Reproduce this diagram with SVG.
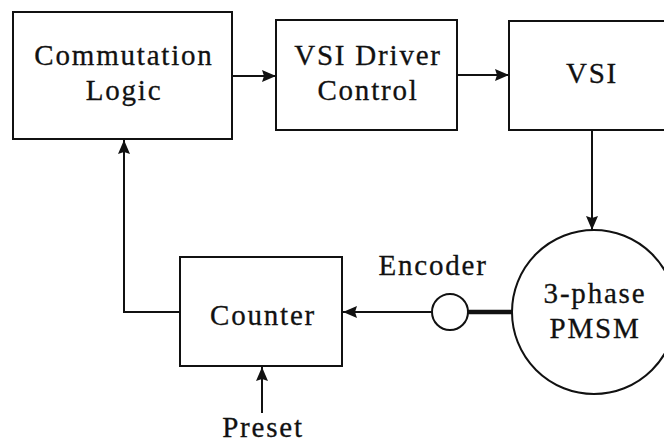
<svg xmlns="http://www.w3.org/2000/svg" width="664" height="442" viewBox="0 0 664 442">
<style>
.box{fill:#fff;stroke:#111;stroke-width:2}
.ln{fill:none;stroke:#111;stroke-width:2}
text{font-family:"Liberation Serif","Times New Roman",serif;font-size:29px;letter-spacing:1.8px;fill:#111;stroke:#111;stroke-width:0.3;text-anchor:middle}
</style>
<defs>
<marker id="ah" viewBox="0 0 14 12" refX="14" refY="6" markerWidth="14" markerHeight="12" markerUnits="userSpaceOnUse" orient="auto">
<path d="M0,0 L14,6 L0,12 L2,6 Z" fill="#111"/>
</marker>
</defs>
<rect width="664" height="442" fill="#fff"/>
<g id="connectors">
<line class="ln" x1="232" y1="76" x2="276" y2="76" marker-end="url(#ah)"/>
<line class="ln" x1="457" y1="75" x2="509" y2="75" marker-end="url(#ah)"/>
<line class="ln" x1="592" y1="130" x2="592" y2="230" marker-end="url(#ah)"/>
<line x1="468" y1="312" x2="512" y2="312" stroke="#111" stroke-width="4.5"/>
<line class="ln" x1="432" y1="312" x2="343" y2="312" marker-end="url(#ah)"/>
<polyline class="ln" points="180,312 124,312 124,140" marker-end="url(#ah)"/>
<line class="ln" x1="262" y1="413" x2="262" y2="367" marker-end="url(#ah)"/>
</g>
<g id="commutation">
<rect class="box" x="13" y="12" width="219" height="127"/>
<text x="124" y="65">Commutation</text>
<text x="124" y="100">Logic</text>
</g>
<g id="vsidriver">
<rect class="box" x="276" y="20" width="181" height="110"/>
<text x="368" y="65">VSI Driver</text>
<text x="368" y="100">Control</text>
</g>
<g id="vsi">
<rect class="box" x="509" y="21" width="165" height="109"/>
<text x="592" y="83">VSI</text>
</g>
<g id="pmsm">
<circle class="box" cx="594" cy="312" r="82"/>
<text x="595" y="303">3-phase</text>
<text x="595" y="338">PMSM</text>
</g>
<g id="encoder">
<circle class="box" cx="450" cy="312" r="18"/>
<text x="433" y="275">Encoder</text>
</g>
<g id="counter">
<rect class="box" x="180" y="257" width="162" height="109"/>
<text x="263" y="325">Counter</text>
</g>
<g id="preset">
<text x="263" y="437">Preset</text>
</g>
</svg>
